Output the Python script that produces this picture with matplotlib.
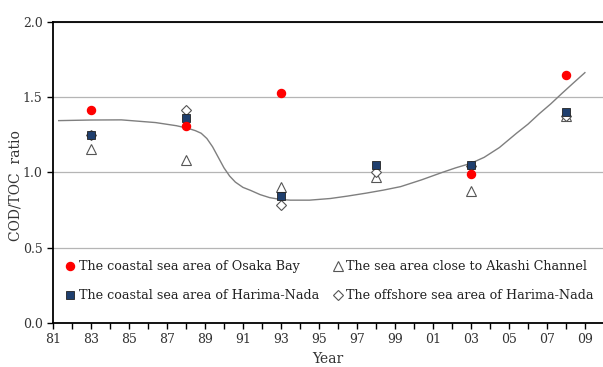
import matplotlib.pyplot as plt

plt.rcParams['font.family'] = ['DejaVu Serif']

# measurement years (81 = 1981, 103 = 2003, ...)
years = [83, 88, 93, 98, 103, 108]
osaka_years = [83, 88, 93, 103, 108]
osaka_coastal = [1.415, 1.31, 1.53, 0.99, 1.65]
harima_coastal = [1.247, 1.36, 0.84, 1.05, 1.05, 1.40]
akashi = [1.158, 1.08, 0.90, 0.97, 0.878, 1.375]
harima_offshore = [1.25, 1.415, 0.78, 1.005, 1.04, 1.375]

# hand-drawn trend curve
curve_x = [81.3, 83.0, 84.6, 86.4, 87.5, 88.1, 88.5, 88.8, 89.1, 89.4, 89.7, 90.0,
           90.3, 90.6, 91.0, 91.4, 91.9, 92.4, 93.0, 93.5, 94.5, 95.6, 96.5,
           97.5, 98.4, 99.3, 100.4, 101.5, 102.2, 103.0, 103.7, 104.5, 105.4,
           106.0, 106.6, 107.2, 107.8, 108.4, 109.0]
curve_y = [1.344, 1.348, 1.349, 1.331, 1.31, 1.293, 1.277, 1.26, 1.225, 1.17, 1.10, 1.03,
           0.975, 0.935, 0.90, 0.88, 0.852, 0.832, 0.819, 0.815, 0.815, 0.826, 0.842,
           0.862, 0.882, 0.905, 0.95, 1.00, 1.03, 1.06, 1.10, 1.165, 1.26,
           1.32, 1.39, 1.455, 1.526, 1.595, 1.663]

tick_years = list(range(81, 110, 2))
tick_labels = [f"{y % 100:02d}" for y in tick_years]

fig = plt.figure(figsize=(6.03, 3.67), dpi=100)
ax = fig.add_axes([0.0879, 0.1207, 0.912, 0.8194])

ax.plot(curve_x, curve_y, color='#7f7f7f', lw=1.0, zorder=2)

ax.plot(osaka_years, osaka_coastal, 'o', color='#ff0000', ms=5.8, ls='none',
        label='The coastal sea area of Osaka Bay', zorder=5)
ax.plot(years, harima_coastal, 's', color='#1f3f6e', mec='#222222', mew=0.6, ms=6,
        ls='none', label='The coastal sea area of Harima-Nada', zorder=4)
ax.plot(years, akashi, '^', mfc='white', mec='#555555', mew=0.8, ms=6.5, ls='none',
        label='The sea area close to Akashi Channel', zorder=3)
ax.plot(years, harima_offshore, 'D', mfc='white', mec='#555555', mew=0.8, ms=5,
        ls='none', label='The offshore sea area of Harima-Nada', zorder=3)

ax.set_xlim(81, 109.95)
ax.set_ylim(0, 2.0)
ax.set_yticks([0, 0.5, 1.0, 1.5, 2.0])
ax.set_yticklabels(['0.0', '0.5', '1.0', '1.5', '2.0'])
ax.set_xticks(tick_years)
ax.set_xticklabels(tick_labels)
ax.set_xticks(range(82, 110, 2), minor=True)

ax.grid(axis='y', color='#b5b5b5', lw=0.9)
ax.set_axisbelow(True)
for s in ['left', 'bottom', 'top']:
    ax.spines[s].set_color('black')
    ax.spines[s].set_linewidth(1.3)
ax.spines['right'].set_visible(False)

ax.tick_params(axis='both', which='both', direction='out', color='black',
               labelsize=9, labelcolor='#333333', width=1.0)
ax.tick_params(axis='x', which='major', length=4)
ax.tick_params(axis='x', which='minor', length=4)
ax.tick_params(axis='y', length=4)

ax.set_xlabel('Year', fontsize=10, color='#333333', labelpad=4)
ax.set_ylabel('COD/TOC  ratio', fontsize=10, color='#333333')
ax.yaxis.set_label_coords(-0.055, 0.455)

leg = ax.legend(ncol=2, frameon=False, loc='lower left',
                bbox_to_anchor=(-0.002, 0.03), fontsize=9.2,
                handletextpad=0.1, handlelength=1.1, columnspacing=0.9,
                labelspacing=1.25, borderaxespad=0.5)
for t in leg.get_texts():
    t.set_color('#222222')

fig.savefig('out.png', dpi=100)
